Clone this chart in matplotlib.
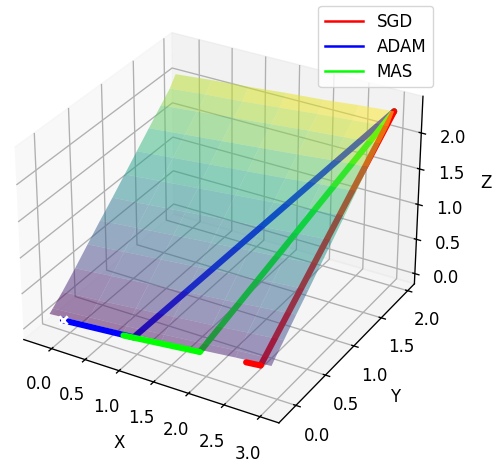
import numpy as np
import matplotlib
matplotlib.use("Agg")
import matplotlib.pyplot as plt
from matplotlib.lines import Line2D

plt.rcParams.update({'font.size': 12, 'axes.linewidth': 0.96, 'grid.linewidth': 0.96,
                     'xtick.major.width': 0.96, 'ytick.major.width': 0.96})

x_grid = [-0.2, 0.35, 0.9, 1.45, 2.0, 2.5, 3.0]
y_grid = [-0.1, -0.05, 0.1, 0.3, 0.5, 0.7, 0.9, 1.1, 1.3, 1.5, 1.7, 1.85, 1.95]
z_grid = [
    [0.14, 0.18, 0.22, 0.26, 0.31, 0.36, 0.40],
    [0.18, 0.22, 0.26, 0.31, 0.36, 0.41, 0.45],
    [0.30, 0.34, 0.39, 0.44, 0.49, 0.54, 0.59],
    [0.48, 0.53, 0.58, 0.63, 0.68, 0.73, 0.78],
    [0.67, 0.72, 0.77, 0.82, 0.87, 0.92, 0.96],
    [0.86, 0.91, 0.96, 1.01, 1.06, 1.10, 1.15],
    [1.04, 1.09, 1.14, 1.19, 1.24, 1.29, 1.33],
    [1.23, 1.28, 1.33, 1.38, 1.43, 1.48, 1.52],
    [1.42, 1.47, 1.52, 1.57, 1.62, 1.67, 1.71],
    [1.61, 1.66, 1.71, 1.76, 1.81, 1.86, 1.90],
    [1.80, 1.85, 1.90, 1.95, 2.00, 2.04, 2.08],
    [1.94, 1.99, 2.03, 2.08, 2.13, 2.17, 2.21],
    [2.08, 2.13, 2.17, 2.22, 2.26, 2.31, 2.35],
]

sgd_x = [2.65, 2.85, 3.0]
sgd_y = [-0.1, -0.1, 1.95]
sgd_z = [0.34, 0.36, 2.35]

adam_x = [0.0, 1.05, 3.0]
adam_y = [-0.1, -0.1, 1.95]
adam_z = [0.11, 0.19, 2.35]

mas_x = [0.9, 2.0, 3.0]
mas_y = [-0.1, -0.1, 1.95]
mas_z = [0.17, 0.28, 2.35]

fig = plt.figure(figsize=(4.99, 4.61), dpi=100)
ax = fig.add_axes([-0.0585, 0.0205, 0.985, 0.985], projection='3d', computed_zorder=False)

for xs, ys, zs, c in [(adam_x, adam_y, adam_z, 'blue'), (mas_x, mas_y, mas_z, 'lime'), (sgd_x, sgd_y, sgd_z, 'red')]:
    ax.plot(xs[1:], ys[1:], zs[1:], color=c, lw=4.4, zorder=1, solid_capstyle='round')

X, Y = np.meshgrid(x_grid, y_grid)
ax.plot_surface(X, Y, np.array(z_grid), cmap='viridis', alpha=0.5, linewidth=0, antialiased=True, zorder=2)

for xs, ys, zs, c, z in [(sgd_x, sgd_y, sgd_z, 'red', 3), (adam_x, adam_y, adam_z, 'blue', 3), (mas_x, mas_y, mas_z, 'lime', 4)]:
    ax.plot(xs[:2], ys[:2], zs[:2], color=c, lw=4.4, zorder=z, solid_capstyle='round')
ax.scatter(adam_x[:1], adam_y[:1], adam_z[:1], marker='x', color='white', s=36, linewidths=2, zorder=5, depthshade=False)

ax.set_xlim(-0.42, 3.26)
ax.set_ylim(-0.28, 2.13)
ax.set_zlim(-0.15, 2.5)
ax.set_xticks([0, 0.5, 1, 1.5, 2, 2.5, 3])
ax.set_yticks([0, 0.5, 1, 1.5, 2])
ax.set_zticks([0, 0.5, 1, 1.5, 2])
ax.tick_params(axis='x', pad=6)
ax.tick_params(axis='y', pad=5.5)
ax.tick_params(axis='z', pad=6)
ax.set_xlabel('X', labelpad=11)
ax.set_ylabel('Y', labelpad=9)
ax.set_zlabel('Z', labelpad=9)
leg_handles = [Line2D([], [], color=c, lw=1.8) for c in ['red', 'blue', 'lime']]
fig.legend(leg_handles, ['SGD', 'ADAM', 'MAS'], loc='upper right', bbox_to_anchor=(433 / 499, 1 - 6 / 461),
           borderaxespad=0, labelspacing=0.42, borderpad=0.4, handlelength=2.3)
fig.savefig('out.png', dpi=100)
